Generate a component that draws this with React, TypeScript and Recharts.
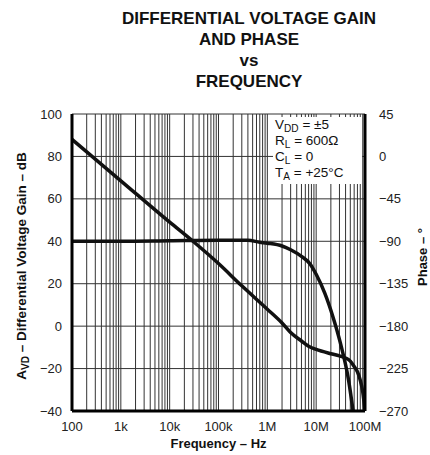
import { CartesianGrid, Line, LineChart, XAxis, YAxis } from 'recharts'

// gain curve, A_VD in dB vs frequency in Hz
const gainFreq = [100, 1e3, 1e4, 3e4, 1e5, 3e5, 1e6, 2e6, 3e6, 5e6, 7e6, 1e7, 2e7, 3e7, 4e7, 5e7, 6e7, 7e7, 8e7, 9e7, 1e8]
const gainDb = [88, 68.5, 49, 40, 29.5, 19, 8, 1.5, -3, -7, -9.5, -11, -13, -14, -15, -16.5, -19, -21.5, -25.5, -31, -40]

// phase curve, degrees vs frequency in Hz
const phaseFreq = [100, 1e3, 1e4, 1e5, 4e5, 7e5, 1e6, 2e6, 3e6, 5e6, 7.5e6, 1e7, 1.5e7, 2.2e7, 3.1e7, 4.6e7, 5.7e7]
const phaseDeg = [-90, -90, -89.5, -89, -89, -91, -92, -95, -99, -106, -114, -125, -145, -170, -197, -237, -270]

const decades = [100, 1e3, 1e4, 1e5, 1e6, 1e7, 1e8]
const decadeLabels = ['100', '1k', '10k', '100k', '1M', '10M', '100M']
const minorSteps = [1, 2, 3, 4, 5, 6, 7, 8, 9]

const gainTicks = [-40, -20, 0, 20, 40, 60, 80, 100]
const phaseTicks = [-270, -225, -180, -135, -90, -45, 0, 45]

const gainData = gainFreq.map((f, i) => ({ f, v: gainDb[i] }))
const phaseData = phaseFreq.map((f, i) => ({ f, v: phaseDeg[i] }))

const gridTicks: number[] = []
decades.slice(0, -1).forEach((d) => minorSteps.forEach((m) => gridTicks.push(d * m)))
gridTicks.push(decades[decades.length - 1])

function freqLabel(value: number): string {
  const idx = decades.findIndex((d) => Math.abs(d - value) / d < 1e-6)
  return idx >= 0 ? decadeLabels[idx] : ''
}

const minus = (n: number) => (n < 0 ? `\u2212${-n}` : `${n}`)

const frame = { stroke: '#000', strokeWidth: 3 }
const tickStyle = { fontSize: 13, fill: '#222', fontFamily: '"Liberation Sans", Arial, sans-serif' }

const sub = { fontSize: '0.75em', position: 'relative' as const, top: '0.25em', lineHeight: 0 }

export default function App() {
  return (
    <div
      style={{
        position: 'absolute',
        left: 0,
        top: 0,
        width: 430,
        height: 455,
        background: '#fff',
        fontFamily: '"Liberation Sans", Arial, sans-serif',
        color: '#111',
      }}
    >
      <div
        style={{
          position: 'absolute',
          left: 69,
          top: 8,
          width: 360,
          textAlign: 'center',
          fontWeight: 'bold',
          fontSize: 17,
          lineHeight: '21px',
        }}
      >
        DIFFERENTIAL VOLTAGE GAIN
        <br />
        AND PHASE
        <br />
        vs
        <br />
        FREQUENCY
      </div>

      <LineChart width={430} height={455} margin={{ top: 114, right: 0, bottom: 0, left: 0 }}>
        <CartesianGrid stroke="#333" strokeWidth={1} yAxisId="gain" />
        <XAxis
          dataKey="f"
          type="number"
          scale="log"
          domain={[100, 1e8]}
          allowDataOverflow
          ticks={gridTicks}
          interval={0}
          tickFormatter={freqLabel}
          tickLine={false}
          tickSize={0}
          tickMargin={11}
          axisLine={frame}
          tick={tickStyle}
          height={44}
        />
        <XAxis
          xAxisId="top"
          orientation="top"
          dataKey="f"
          type="number"
          scale="log"
          domain={[100, 1e8]}
          allowDataOverflow
          tick={false}
          tickLine={false}
          axisLine={frame}
          height={0}
        />
        <YAxis
          yAxisId="gain"
          domain={[-40, 100]}
          ticks={gainTicks}
          interval={0}
          allowDataOverflow
          tickFormatter={minus}
          tickLine={false}
          tickSize={0}
          tickMargin={10}
          axisLine={frame}
          tick={tickStyle}
          width={72}
        />
        <YAxis
          yAxisId="phase"
          orientation="right"
          domain={[-270, 45]}
          ticks={phaseTicks}
          interval={0}
          allowDataOverflow
          tickFormatter={minus}
          tickLine={false}
          tickSize={0}
          tickMargin={14}
          axisLine={frame}
          tick={{ ...tickStyle, textAnchor: 'start' }}
          width={65}
        />
        <Line
          data={gainData}
          dataKey="v"
          yAxisId="gain"
          type="monotone"
          stroke="#111"
          strokeWidth={3.5}
          dot={false}
          isAnimationActive={false}
        />
        <Line
          data={phaseData}
          dataKey="v"
          yAxisId="phase"
          type="monotone"
          stroke="#111"
          strokeWidth={3.5}
          dot={false}
          isAnimationActive={false}
        />
      </LineChart>

      <div
        style={{
          position: 'absolute',
          left: 273,
          top: 117,
          width: 89,
          height: 67,
          background: '#fff',
          fontSize: 13.5,
          lineHeight: '16px',
          paddingLeft: 2,
          boxSizing: 'border-box',
        }}
      >
        <div>
          V<span style={sub}>DD</span> = ±5
        </div>
        <div>
          R<span style={sub}>L</span> = 600Ω
        </div>
        <div>
          C<span style={sub}>L</span> = 0
        </div>
        <div>
          T<span style={sub}>A</span> = +25°C
        </div>
      </div>

      <div
        style={{
          position: 'absolute',
          left: 22 - 160,
          top: 266 - 9,
          width: 320,
          height: 18,
          lineHeight: '18px',
          textAlign: 'center',
          fontWeight: 'bold',
          fontSize: 13.5,
          transform: 'rotate(-90deg)',
        }}
      >
        A<span style={sub}>VD</span> – Differential Voltage Gain – dB
      </div>

      <div
        style={{
          position: 'absolute',
          left: 423 - 60,
          top: 257 - 9,
          width: 120,
          height: 18,
          lineHeight: '18px',
          textAlign: 'center',
          fontWeight: 'bold',
          fontSize: 13,
          transform: 'rotate(-90deg)',
        }}
      >
        Phase – °
      </div>

      <div
        style={{
          position: 'absolute',
          left: 72,
          top: 436,
          width: 293,
          textAlign: 'center',
          fontWeight: 'bold',
          fontSize: 13,
          lineHeight: '16px',
        }}
      >
        Frequency – Hz
      </div>
    </div>
  )
}
